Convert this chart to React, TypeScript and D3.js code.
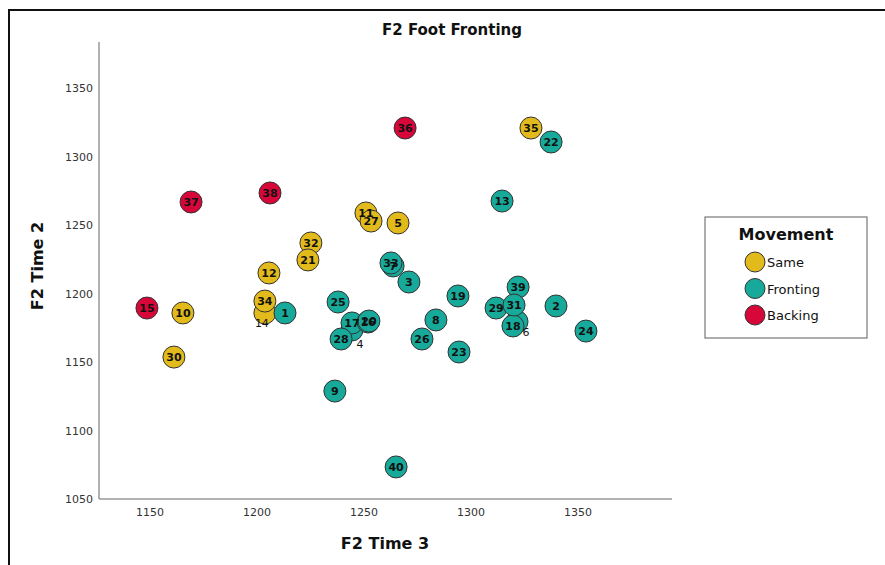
import React from "react";
import * as d3 from "d3";

// case ids, F2 at time 3 (x), F2 at time 2 (y), movement group
const ids = [15, 10, 30, 37, 38, 36, 35, 22, 13, 11, 27, 5, 32, 21, 12, 14, 34, 1, 25, 4, 17, 28, 16, 20, 7, 33, 3, 19, 8, 26, 23, 9, 40, 29, 39, 6, 18, 31, 2, 24];
const time3 = [1148.6, 1165.4, 1161.2, 1169.2, 1206.1, 1269.2, 1328.0, 1337.4, 1314.5, 1250.9, 1253.3, 1265.9, 1225.2, 1223.8, 1205.6, 1203.7, 1203.7, 1213.1, 1237.9, 1244.4, 1244.4, 1239.3, 1251.9, 1252.3, 1263.6, 1262.6, 1271.0, 1293.9, 1283.6, 1277.1, 1294.4, 1236.4, 1265.0, 1311.7, 1322.0, 1321.5, 1319.6, 1320.1, 1339.7, 1353.7];
const time2 = [1189.4, 1185.8, 1153.6, 1266.8, 1273.4, 1320.8, 1320.8, 1310.6, 1267.5, 1258.8, 1252.9, 1251.5, 1236.9, 1224.5, 1215.0, 1185.8, 1194.5, 1185.8, 1193.8, 1173.4, 1178.5, 1166.8, 1179.2, 1179.9, 1220.1, 1222.3, 1208.4, 1198.2, 1180.7, 1166.8, 1157.3, 1128.8, 1073.4, 1189.4, 1204.7, 1179.5, 1176.3, 1191.6, 1190.9, 1172.6];
const movement = ["Backing", "Same", "Same", "Backing", "Backing", "Backing", "Same", "Fronting", "Fronting", "Same", "Same", "Same", "Same", "Same", "Same", "Same", "Same", "Fronting", "Fronting", "Fronting", "Fronting", "Fronting", "Fronting", "Fronting", "Fronting", "Fronting", "Fronting", "Fronting", "Fronting", "Fronting", "Fronting", "Fronting", "Fronting", "Fronting", "Fronting", "Fronting", "Fronting", "Fronting", "Fronting", "Fronting"];

const groups = ["Same", "Fronting", "Backing"];
const groupColors = ["#e2ba1c", "#17a99a", "#d7073a"];
const xTicks = [1150, 1200, 1250, 1300, 1350];
const yTicks = [1050, 1100, 1150, 1200, 1250, 1300, 1350];

// labels of hidden markers get pushed outside
const displaced: Record<number, [number, number]> = { 14: [-3, 10], 4: [8, 14], 6: [9, 10] };

export default function App() {
  const font = "'DejaVu Sans', Verdana, sans-serif";
  const left = 99, right = 672, top = 42, bottom = 499;

  const x = d3.scaleLinear().domain([1126.2, 1393.9]).range([left, right]);
  const y = d3.scaleLinear().domain([1050, 1383.6]).range([bottom, top]);
  const color = d3.scaleOrdinal<string, string>().domain(groups).range(groupColors);

  const pts = ids.map((id, i) => ({ id, x: time3[i], y: time2[i], g: movement[i] }));

  return (
    <svg width={885} height={565} style={{ position: "fixed", left: 0, top: 0, display: "block" }} fontFamily={font}>
      <rect x={0} y={0} width={885} height={565} fill="#fff" />
      <path d="M9,575 V10 H890" fill="none" stroke="#111" strokeWidth={2} />

      <text x={452} y={35} textAnchor="middle" fontSize={15} fontWeight="bold" fill="#111">F2 Foot Fronting</text>

      {/* axes */}
      <line x1={left} x2={left} y1={top} y2={bottom} stroke="#999" strokeWidth={1.5} />
      <line x1={left} x2={right} y1={bottom} y2={bottom} stroke="#999" strokeWidth={1.5} />
      {yTicks.map((t) => (
        <text key={t} x={93} y={y(t) + 4} textAnchor="end" fontSize={11} fill="#333">{t}</text>
      ))}
      {xTicks.map((t) => (
        <text key={t} x={x(t)} y={516} textAnchor="middle" fontSize={11} fill="#333">{t}</text>
      ))}
      <text x={385} y={549} textAnchor="middle" fontSize={16} fontWeight="bold" fill="#111">F2 Time 3</text>
      <text transform="translate(43,266) rotate(-90)" textAnchor="middle" fontSize={16} fontWeight="bold" fill="#111">F2 Time 2</text>

      {/* markers */}
      {pts.map((p) => (
        <circle key={p.id} cx={x(p.x)} cy={y(p.y)} r={11} fill={color(p.g)} stroke="#333" strokeWidth={1} />
      ))}
      {pts.map((p) => {
        const off = displaced[p.id];
        return (
          <text key={"l" + p.id} x={x(p.x) + (off ? off[0] : 0)} y={y(p.y) + (off ? off[1] : 0) + 4}
            textAnchor="middle" fontSize={11} fontWeight={off ? "normal" : "bold"} fill="#111">{p.id}</text>
        );
      })}

      {/* legend */}
      <rect x={705} y={217} width={162} height={121} fill="#fff" stroke="#777" strokeWidth={1.2} />
      <text x={786} y={240} textAnchor="middle" fontSize={16} fontWeight="bold" fill="#111">Movement</text>
      {groups.map((g, i) => (
        <g key={g} transform={`translate(755,${262 + i * 26.5})`}>
          <circle r={10} fill={color(g)} stroke="#333" strokeWidth={1} />
          <text x={12} y={5} fontSize={13} fill="#111">{g}</text>
        </g>
      ))}
    </svg>
  );
}
